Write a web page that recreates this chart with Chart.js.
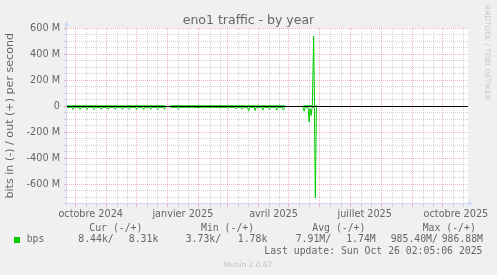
<!DOCTYPE html>
<html>
<head>
<meta charset="utf-8">
<script src="https://cdn.jsdelivr.net/npm/chart.js@4.4.1/dist/chart.umd.min.js"></script>
<style>
    html, body { margin: 0; padding: 0; background: #f0f0f0; }
    #wrap { width: 497px; height: 275px; }
</style>
</head>
<body>
<div id="wrap"><canvas id="graph" width="497" height="275"></canvas></div>
<script>
// x = days counted from 1 Oct 2024, y = Mbit/s
var xStart = -8;
var xEnd = 390;
var monthDays = [0, 31, 61, 92, 123, 151, 182, 212, 243, 273, 304, 335, 365];
var minorDays = [-9, -20, 11, 21, 42, 52, 72, 82, 103, 113, 134, 144, 162, 172, 193, 203,
    223, 233, 254, 264, 284, 294, 315, 325, 346, 356, 376, 386];
var labelDays = [15.5, 107, 197, 287.5, 378];
var labelText = ['octobre 2024', 'janvier 2025', 'avril 2025', 'juillet 2025', 'octobre 2025'];
var yMin = -750;
var yMax = 600;

// traffic in (drawn below zero)
var inDays = [-8, -3, -2, -1, 4, 5, 6, 11, 12, 13, 18, 19, 20, 25, 26, 27, 32, 33, 34,
    39, 40, 41, 46, 47, 48, 53, 54, 55, 60, 61, 62, 67, 68, 69, 74, 75, 76, 81, 82, 83,
    88, 89, 89.6, 92,
    94.5, 101.5, 102.5, 103.5, 108.5, 109.5, 110.5, 115.5, 116.5, 117.5, 122, 123, 124,
    126.3, 127.3, 128.3, 135.7, 136.7, 137.7, 142.9, 143.9, 144.9, 150.9, 151.9, 152.9,
    158.8, 159.8, 160.8, 164.5, 165.5, 166.5, 171.2, 172.2, 173.2, 177.7, 178.7, 179.7,
    185.3, 186.3, 187.3, 191.9, 192.9, 193.9, 199.2, 200.2, 201.2, 205.8, 206.8, 207.8, 208.4, 215,
    226.3, 227.3, 228.3, 231.3, 232.3, 233.3, 234.2, 235.3, 237.5, 238.5, 239.6, 240.5];
var inVals = [10, 10, 26, 10, 10, 26, 10, 10, 26, 10, 10, 26, 10, 10, 26, 10, 10, 26, 10,
    10, 26, 10, 10, 26, 10, 10, 26, 10, 10, 26, 10, 10, 26, 10, 10, 26, 10, 10, 26, 10,
    10, 26, 10, null,
    10, 10, 25, 10, 10, 14, 10, 10, 15, 10, 10, 13, 10,
    10, 18, 10, 10, 16, 10, 10, 16, 10, 10, 20, 10,
    10, 22, 10, 10, 25, 10, 10, 40, 10, 10, 35, 10,
    10, 32, 10, 10, 27, 10, 10, 32, 10, 10, 32, 10, 10, null,
    10, 40, 10, 10, 123, 20, 73, 10, 10, 706, 5, 0];

// traffic out (drawn above zero)
var outDays = [-8, 89.6, 92, 94.5, 208.4, 215, 226.3, 235.5, 236.8, 237.7, 240.5];
var outVals = [1.5, 1.5, null, 1.5, 1.5, null, 1.5, 1.5, 537, 1, 0];

var legendHead = ['Cur (-/+)', 'Min (-/+)', 'Avg (-/+)', 'Max (-/+)'];
var legendIn = ['8.44k/', '3.73k/', '7.91M/', '985.40M/'];
var legendOut = ['8.31k', '1.78k', '1.74M', '986.88M'];
var lastUpdate = 'Last update: Sun Oct 26 02:05:06 2025';

var green = '#00cc00';
var fontColor = '#666666';
var axisColor = '#cfd6f8';
var gridColor = 'rgba(143,143,143,0.38)';
var mgridColor = 'rgba(222,79,79,0.42)';

function points(days, vals, sign) {
    return days.map(function(d, i) {
        return {x: d, y: vals[i] === null ? null : sign * vals[i]};
    });
}

var xTicks = monthDays.concat(labelDays).concat(minorDays.filter(function(d) {
    return d > xStart && d < xEnd;
}));
xTicks.sort(function(a, b) { return a - b; });

var yTicks = [];
for (var v = -700; v <= yMax; v += 50) yTicks.push(v);

var munin = {
    id: 'munin',
    beforeDraw: function(chart) {
        var a = chart.chartArea, ctx = chart.ctx;
        ctx.save();
        ctx.fillStyle = '#ffffff';
        ctx.fillRect(a.left, a.top, a.right - a.left, a.bottom - a.top);
        ctx.restore();
    },
    afterDatasetsDraw: function(chart) {
        var a = chart.chartArea, ctx = chart.ctx;
        var y0 = Math.round(chart.scales.y.getPixelForValue(0) - 0.5) + 0.5;
        ctx.save();
        ctx.strokeStyle = '#000000';
        ctx.lineWidth = 1;
        ctx.beginPath();
        ctx.moveTo(a.left, y0);
        ctx.lineTo(a.right, y0);
        ctx.stroke();
        ctx.restore();
    },
    afterDraw: function(chart) {
        var a = chart.chartArea, ctx = chart.ctx;
        var xl = Math.round(a.left) - 0.5;
        var yb = Math.round(a.bottom) - 0.5;
        ctx.save();
        // axes with arrows
        ctx.strokeStyle = axisColor;
        ctx.fillStyle = axisColor;
        ctx.lineWidth = 1;
        ctx.beginPath();
        ctx.moveTo(xl, yb + 3); ctx.lineTo(xl, a.top - 4);
        ctx.moveTo(xl - 3, yb); ctx.lineTo(a.right + 2, yb);
        ctx.stroke();
        ctx.beginPath();
        ctx.moveTo(xl, a.top - 7); ctx.lineTo(xl - 2.5, a.top - 2); ctx.lineTo(xl + 2.5, a.top - 2);
        ctx.closePath(); ctx.fill();
        ctx.beginPath();
        ctx.moveTo(a.right + 5, yb); ctx.lineTo(a.right, yb - 2.5); ctx.lineTo(a.right, yb + 2.5);
        ctx.closePath(); ctx.fill();

        // title
        ctx.fillStyle = fontColor;
        ctx.textBaseline = 'alphabetic';
        ctx.textAlign = 'center';
        ctx.font = '12.5px "DejaVu Sans"';
        ctx.fillText('eno1 traffic - by year', 248.5, 23.5);

        // watermark
        ctx.save();
        ctx.translate(485, 5);
        ctx.rotate(Math.PI / 2);
        ctx.textAlign = 'left';
        ctx.fillStyle = '#c8c8c8';
        ctx.font = '7.4px "DejaVu Sans"';
        ctx.fillText('RRDTOOL / TOBI OETIKER', 0, 0);
        ctx.restore();

        // legend
        ctx.font = '9.8px "DejaVu Sans Mono"';
        ctx.textAlign = 'left';
        var headX = [89.3, 201, 312.3, 422.7];
        var inX = [78.3, 185.7, 295.7, 390.7];
        var outX = [158.3, 267.3, 375.7, 483];
        legendHead.forEach(function(t, i) { ctx.fillText(t, headX[i], 230.5); });
        ctx.fillText('bps', 26.7, 242.4);
        legendIn.forEach(function(t, i) { ctx.fillText(t, inX[i], 242.4); });
        ctx.textAlign = 'right';
        legendOut.forEach(function(t, i) { ctx.fillText(t, outX[i], 242.4); });
        ctx.fillText(lastUpdate, 482.5, 254.3);
        ctx.fillStyle = green;
        ctx.fillRect(14, 237, 6, 6);

        ctx.textAlign = 'center';
        ctx.fillStyle = '#c4c4c4';
        ctx.font = '7.4px "DejaVu Sans"';
        ctx.fillText('Munin 2.0.67', 248, 266.5);
        ctx.restore();
    }
};

var chart = new Chart(document.getElementById('graph'), {
    type: 'line',
    data: {
        datasets: [{
            label: 'in',
            data: points(inDays, inVals, -1),
            borderColor: green,
            borderWidth: 1,
            pointRadius: 0,
            fill: false,
            tension: 0
        }, {
            label: 'out',
            data: points(outDays, outVals, 1),
            borderColor: green,
            borderWidth: 1,
            pointRadius: 0,
            fill: false,
            tension: 0
        }]
    },
    options: {
        responsive: false,
        animation: false,
        devicePixelRatio: 1,
        layout: { padding: { left: 0, top: 28, right: 29, bottom: 51.5 } },
        plugins: {
            legend: { display: false },
            tooltip: { enabled: false },
            title: { display: false }
        },
        scales: {
            x: {
                type: 'linear',
                min: xStart,
                max: xEnd,
                afterBuildTicks: function(s) {
                    s.ticks = xTicks.map(function(v) { return {value: v}; });
                },
                afterFit: function(s) { s.height = 20; },
                ticks: {
                    autoSkip: false,
                    maxRotation: 0,
                    minRotation: 0,
                    padding: 2,
                    color: fontColor,
                    font: { family: 'DejaVu Sans', size: 9.7 },
                    callback: function(v) {
                        var i = labelDays.indexOf(v);
                        return i < 0 ? '' : labelText[i];
                    }
                },
                grid: {
                    tickLength: 3,
                    color: function(c) {
                        var v = c.tick ? c.tick.value : null;
                        if (labelDays.indexOf(v) >= 0) return 'rgba(0,0,0,0)';
                        return monthDays.indexOf(v) >= 0 ? mgridColor : gridColor;
                    }
                },
                border: { display: false, dash: [1, 1] }
            },
            y: {
                type: 'linear',
                min: yMin,
                max: yMax,
                afterBuildTicks: function(s) {
                    s.ticks = yTicks.map(function(v) { return {value: v}; });
                },
                afterFit: function(s) { s.width = 67; },
                ticks: {
                    autoSkip: false,
                    padding: 4,
                    color: fontColor,
                    font: { family: 'DejaVu Sans', size: 9.7 },
                    callback: function(v) {
                        if (v % 200 !== 0) return '';
                        return v === 0 ? '0' : v + ' M';
                    }
                },
                grid: {
                    tickLength: 3,
                    color: function(c) {
                        var v = c.tick ? c.tick.value : 1;
                        return v % 200 === 0 ? mgridColor : gridColor;
                    }
                },
                border: { display: false, dash: [1, 1] },
                title: {
                    display: true,
                    text: 'bits in (-) / out (+) per second',
                    color: fontColor,
                    font: { family: 'DejaVu Sans', size: 11.1 },
                    padding: { top: 3.3, bottom: 0 }
                }
            }
        }
    },
    plugins: [munin]
});
</script>
</body>
</html>
